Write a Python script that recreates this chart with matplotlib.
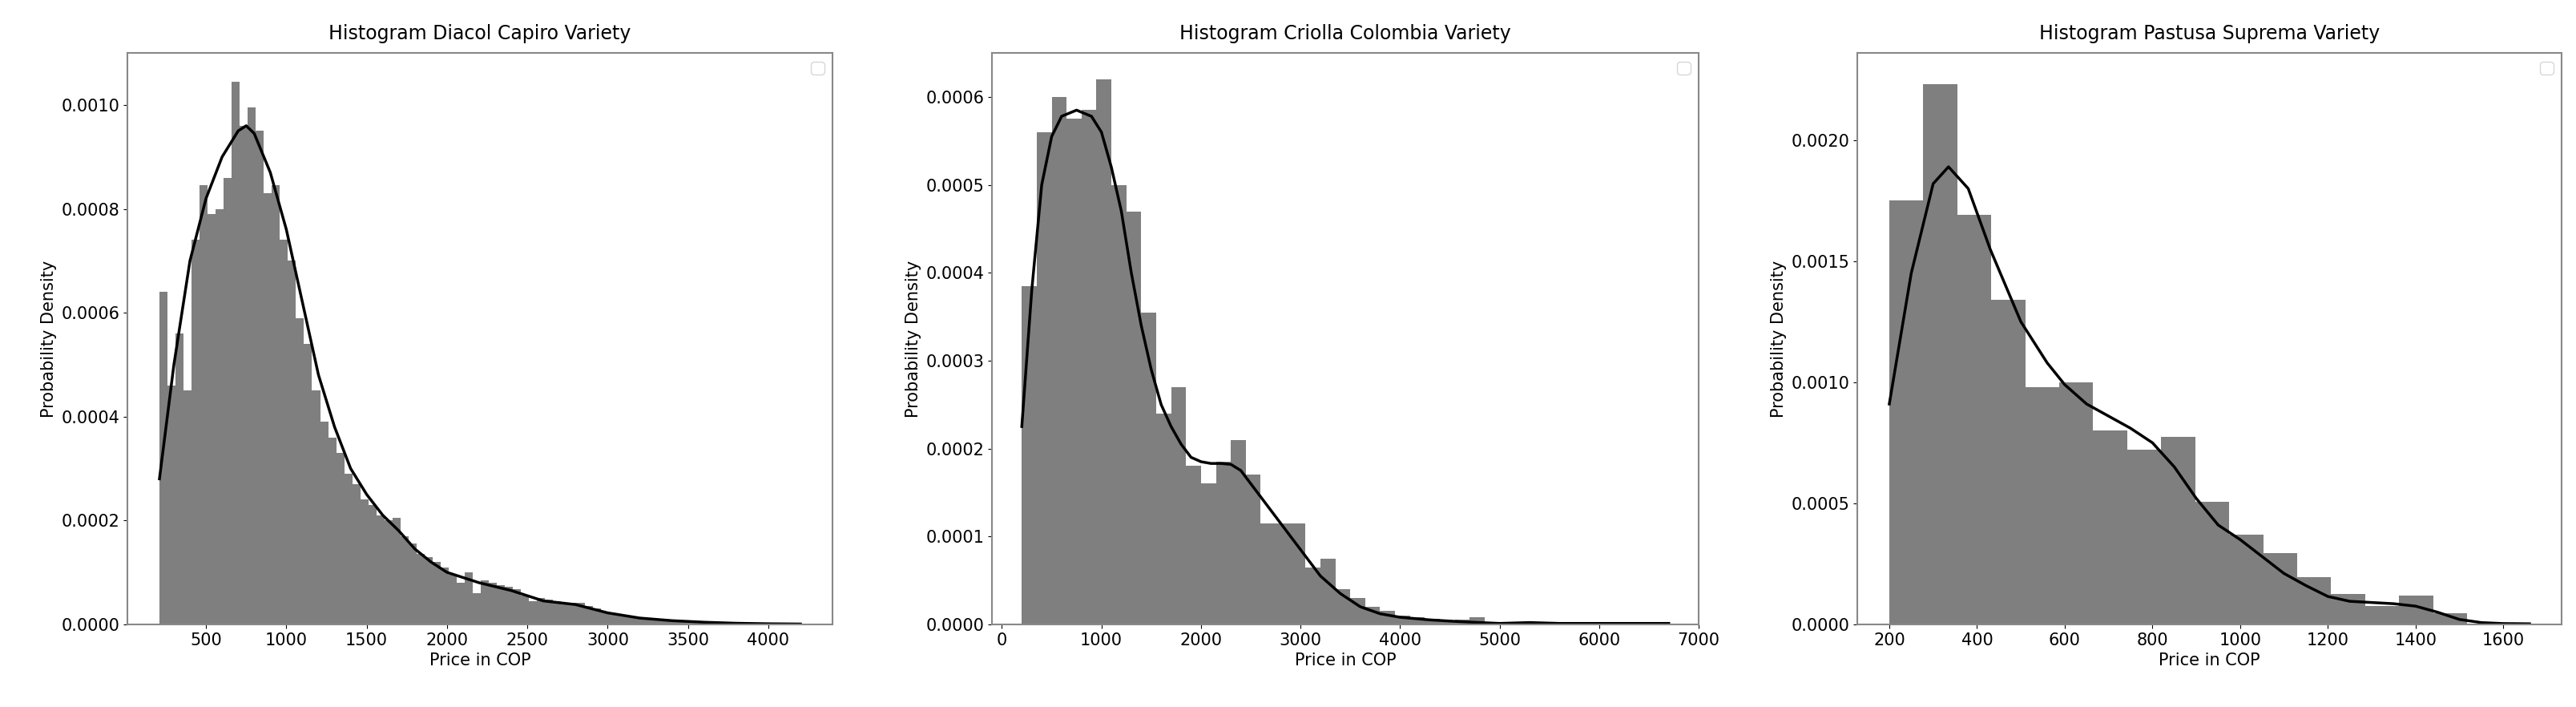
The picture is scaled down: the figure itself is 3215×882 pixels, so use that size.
import numpy as np
import matplotlib.pyplot as plt

# Diacol Capiro: bins of width 50 starting at 210 (density x 1e-4)
capiro_start, capiro_width = 210, 50
capiro_heights = [6.4, 4.6, 5.6, 4.5, 7.4, 8.45, 7.9, 8.0, 8.6, 10.45, 9.6, 9.95, 9.5, 8.3, 8.45,
                  7.4, 7.0, 5.9, 5.4, 4.5, 3.9, 3.6, 3.3, 2.9, 2.7, 2.4, 2.3, 2.1, 2.0, 2.05,
                  1.7, 1.55, 1.35, 1.3, 1.2, 1.1, 0.95, 0.8, 1.0, 0.6, 0.85, 0.8, 0.75, 0.72, 0.68,
                  0.55, 0.45, 0.5, 0.48, 0.45, 0.4, 0.42, 0.42, 0.35, 0.3, 0.25, 0.2, 0.18, 0.15,
                  0.13, 0.12, 0.1, 0.09, 0.08, 0.07, 0.06, 0.05, 0.04, 0.035, 0.03, 0.025, 0.02,
                  0.015, 0.012, 0.01, 0.008, 0.006, 0.005, 0.004]
capiro_kde_x = [210, 300, 400, 500, 600, 700, 750, 800, 900, 1000, 1100, 1200, 1300, 1400, 1500,
                1600, 1700, 1800, 1900, 2000, 2200, 2400, 2600, 2800, 3000, 3200, 3400, 3600,
                3800, 4000, 4200]
capiro_kde_y = [2.8, 5.0, 7.0, 8.2, 9.0, 9.5, 9.6, 9.45, 8.7, 7.6, 6.2, 4.8, 3.8, 3.0, 2.5,
                2.1, 1.8, 1.45, 1.2, 1.0, 0.8, 0.65, 0.45, 0.38, 0.22, 0.12, 0.07, 0.04,
                0.02, 0.01, 0.005]

# Criolla Colombia: bins of width 150 starting at 200
criolla_start, criolla_width = 200, 150
criolla_heights = [3.85, 5.6, 6.0, 5.75, 5.85, 6.2, 5.0, 4.7, 3.55, 2.4, 2.7, 1.8, 1.6, 1.85,
                   2.1, 1.7, 1.15, 1.15, 1.15, 0.65, 0.75, 0.4, 0.3, 0.2, 0.15, 0.1, 0.08, 0.06,
                   0.04, 0.05, 0.08, 0.02, 0.01, 0.02, 0.03, 0.01, 0.01, 0.01, 0.01, 0.01, 0.01,
                   0.01, 0.01]
criolla_kde_x = [200, 300, 400, 500, 600, 750, 900, 1000, 1100, 1200, 1300, 1400, 1500, 1600,
                 1700, 1800, 1900, 2000, 2100, 2200, 2300, 2400, 2500, 2600, 2800, 3000, 3200,
                 3400, 3600, 3800, 4000, 4300, 4600, 5000, 5300, 5600, 6000, 6700]
criolla_kde_y = [2.25, 3.8, 5.0, 5.55, 5.78, 5.85, 5.78, 5.6, 5.2, 4.7, 4.0, 3.4, 2.9, 2.5,
                 2.25, 2.05, 1.9, 1.85, 1.83, 1.83, 1.82, 1.75, 1.6, 1.45, 1.15, 0.85, 0.55,
                 0.35, 0.2, 0.12, 0.08, 0.05, 0.03, 0.01, 0.02, 0.01, 0.01, 0.01]

# Pastusa Suprema: bins of width 77.5 starting at 200
pastusa_start, pastusa_width = 200, 77.5
pastusa_heights = [17.5, 22.3, 16.9, 13.4, 9.8, 10.0, 8.0, 7.2, 7.75, 5.05, 3.7, 2.95, 1.95,
                   1.25, 0.75, 1.2, 0.45]
pastusa_kde_x = [200, 250, 300, 335, 380, 430, 500, 560, 600, 650, 700, 750, 800, 850, 900,
                 950, 1000, 1050, 1100, 1150, 1200, 1250, 1300, 1350, 1400, 1450, 1500, 1550,
                 1600, 1660]
pastusa_kde_y = [9.1, 14.5, 18.2, 18.9, 18.0, 15.5, 12.5, 10.8, 9.9, 9.1, 8.6, 8.1, 7.5, 6.5,
                 5.2, 4.1, 3.5, 2.8, 2.1, 1.6, 1.15, 0.95, 0.9, 0.85, 0.75, 0.5, 0.2, 0.07,
                 0.03, 0.02]

titles = ["Histogram Diacol Capiro Variety", "Histogram Criolla Colombia Variety",
          "Histogram Pastusa Suprema Variety"]

panels = [
    (capiro_start, capiro_width, capiro_heights, capiro_kde_x, capiro_kde_y,
     [500, 1000, 1500, 2000, 2500, 3000, 3500, 4000], None, 0.0011),
    (criolla_start, criolla_width, criolla_heights, criolla_kde_x, criolla_kde_y,
     [0, 1000, 2000, 3000, 4000, 5000, 6000, 7000], (-100, 7000), 0.00065),
    (pastusa_start, pastusa_width, pastusa_heights, pastusa_kde_x, pastusa_kde_y,
     [200, 400, 600, 800, 1000, 1200, 1400, 1600], None, 0.00236),
]

plt.rcParams['font.size'] = 15
fig = plt.figure(figsize=(32.16, 8.82), dpi=100)
lefts = [159 / 3216, 1238 / 3216, 2318 / 3216]
widths = [880 / 3216, 882 / 3216, 879 / 3216]

for i, (start, w, heights, kx, ky, ticks, xlim, ytop) in enumerate(panels):
    ax = fig.add_axes([lefts[i], 0.117, widths[i], 0.808])
    h = np.array(heights) * 1e-4
    lefts_bins = start + w * np.arange(len(h))
    ax.bar(lefts_bins, h, width=w, align='edge', color='#7f7f7f', edgecolor='none')
    ax.plot(kx, np.array(ky) * 1e-4, color='black', lw=2.5)
    ax.set_xticks(ticks)
    if xlim:
        ax.set_xlim(*xlim)
    ax.set_ylim(0, ytop)
    ax.set_title(titles[i], fontsize=17, pad=12)
    ax.set_xlabel("Price in COP")
    ax.set_ylabel("Probability Density")
    for s in ax.spines.values():
        s.set_color('#888888')
        s.set_linewidth(1.5)
    ax.legend(handles=[], loc='upper right')

fig.savefig("out.png", dpi=100)
